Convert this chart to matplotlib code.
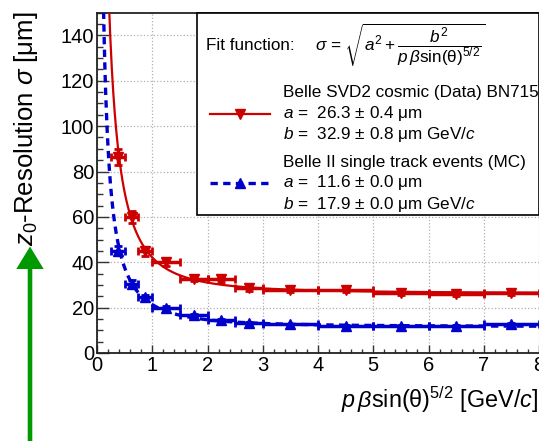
import numpy as np
import matplotlib
matplotlib.use('Agg')
import matplotlib.pyplot as plt
from matplotlib.patches import Rectangle, Polygon

plt.rcParams['font.family'] = ['Liberation Sans', 'DejaVu Sans']
plt.rcParams['mathtext.fontset'] = 'custom'
plt.rcParams['mathtext.rm'] = 'Liberation Sans'
plt.rcParams['mathtext.it'] = 'Liberation Sans:italic'
plt.rcParams['mathtext.bf'] = 'Liberation Sans:bold'

# bin edges (GeV/c) shared by both samples
bin_lo = [0.25, 0.5, 0.75, 1.0, 1.5, 2.0, 2.5, 3.0, 4.0, 5.0, 6.0, 7.0]
bin_hi = [0.5, 0.75, 1.0, 1.5, 2.0, 2.5, 3.0, 4.0, 5.0, 6.0, 7.0, 8.0]

# Belle SVD2 cosmic data
data_sigma = [86.5, 60.0, 44.8, 40.0, 32.8, 32.5, 28.5, 27.8, 27.8, 26.5, 26.0, 26.3]
data_err = [3.5, 2.5, 2.0, 1.5, 1.2, 1.2, 1.0, 0.8, 0.8, 0.8, 0.8, 0.8]

# Belle II single track MC
mc_sigma = [45.0, 30.5, 24.5, 20.0, 16.8, 14.5, 13.3, 12.6, 12.0, 12.0, 12.0, 12.8]
mc_err = [2.0, 1.5, 1.2, 0.8, 0.6, 0.5, 0.4, 0.4, 0.4, 0.4, 0.4, 0.4]

# fit parameters shown in the legend
data_a, data_b = 26.3, 32.9
mc_a, mc_b = 11.6, 17.9

red = '#cc0000'
blue = '#0000cc'

fig = plt.figure(figsize=(5.39, 4.41), dpi=100)
ax = fig.add_axes([97 / 539, 1 - 353 / 441, 442 / 539, 340.3 / 441])

lo = np.array(bin_lo)
hi = np.array(bin_hi)
xc = (lo + hi) / 2
xerr = (hi - lo) / 2

ax.errorbar(xc, data_sigma, xerr=xerr, yerr=data_err, fmt='v', color=red,
            ms=7, lw=2.5, capsize=3, capthick=2, zorder=3)
ax.errorbar(xc, mc_sigma, xerr=xerr, yerr=mc_err, fmt='^', color=blue,
            ms=7, lw=2.5, capsize=3, capthick=2, zorder=3)

xf = np.linspace(0.05, 8.2, 600)
ax.plot(xf, np.sqrt(data_a**2 + (data_b / xf)**2), color=red, lw=1.6, zorder=4)
ax.plot(xf, np.sqrt(mc_a**2 + (mc_b / xf)**2), color=blue, lw=2.4,
        ls=(0, (2.2, 1.6)), zorder=4)

ax.set_xlim(0, 8)
ax.set_ylim(0, 150)
ax.set_xticks(np.arange(0, 9, 1))
ax.set_xticks(np.arange(0, 8.01, 0.2), minor=True)
ax.set_yticks(np.arange(0, 141, 20))
ax.set_yticks(np.arange(0, 151, 5), minor=True)
ax.grid(True, which='major', color='#b0b0b0', ls=':', lw=0.9)
ax.tick_params(axis='both', which='both', direction='in', labelsize=14.5,
               pad=2, color='#333333')
ax.tick_params(axis='y', which='major', length=8.5, width=1)
ax.tick_params(axis='y', which='minor', length=4, width=1)
ax.tick_params(axis='x', which='major', length=5.5, width=1)
ax.tick_params(axis='x', which='minor', length=3, width=1)
for s in ax.spines.values():
    s.set_linewidth(1.3)
    s.set_color('#222222')
ax.spines['right'].set_visible(False)

# axis titles (ROOT style, aligned to the top / right end)
fig.text(26 / 539, 1 - 11 / 441, r'$z_0$-Resolution $\sigma$ [$\mathrm{\mu}$m]',
         rotation=90, ha='center', va='top', fontsize=18.5)
fig.text(538 / 539, 1 - 408 / 441,
         r'$p\,\beta\mathrm{sin}(\mathrm{\theta})^{5/2}$ [GeV/$c$]',
         ha='right', va='baseline', fontsize=16.8)

# legend box
def ax_pt(px, py):
    return (px - 97) / 442, (353 - py) / 340.3

x0, y0 = ax_pt(197, 215)
ax.add_patch(Rectangle((x0, y0), 1 - x0, 1 - y0, transform=ax.transAxes,
                       facecolor='white', edgecolor='black', lw=1.2,
                       zorder=6, clip_on=False))

fs = 12.3
tx, ty = ax_pt(206, 46)
ax.text(tx, ty, 'Fit function:', transform=ax.transAxes, fontsize=fs,
        va='center', zorder=7)
tx, ty = ax_pt(315, 45)
ax.text(tx, ty, r'$\sigma$ = $\sqrt{a^2 + \dfrac{b^2}{p\,\beta\mathrm{sin}(\mathrm{\theta})^{5/2}}}$',
        transform=ax.transAxes, fontsize=fs, va='center', zorder=7)

entries = [
    (93, 'Belle SVD2 cosmic (Data) BN715', data_a, 0.4, data_b, 0.8, red, 'v', '-', 1.6),
    (162, 'Belle II single track events (MC)', mc_a, 0.0, mc_b, 0.0, blue, '^', (0, (2.2, 1.6)), 2.4),
]
for py, title, a, da, b, db, col, mk, ls, lw in entries:
    tx, ty = ax_pt(283, py)
    ax.text(tx, ty, title, transform=ax.transAxes, fontsize=fs, va='center', zorder=7)
    tx, ty = ax_pt(283, py + 21)
    ax.text(tx, ty, r'$a$ =  %.1f $\pm$ %.1f $\mathrm{\mu}$m' % (a, da),
            transform=ax.transAxes, fontsize=fs, va='center', zorder=7)
    tx, ty = ax_pt(283, py + 42)
    ax.text(tx, ty, r'$b$ =  %.1f $\pm$ %.1f $\mathrm{\mu}$m GeV/$c$' % (b, db),
            transform=ax.transAxes, fontsize=fs, va='center', zorder=7)
    hx0, hy = ax_pt(210, py + 21)
    hx1, _ = ax_pt(270, py + 21)
    ax.plot([hx0, hx1], [hy, hy], color=col, lw=lw, ls=ls, transform=ax.transAxes,
            clip_on=False, zorder=7)
    ax.plot([(hx0 + hx1) / 2], [hy], marker=mk, color=col, ms=7,
            transform=ax.transAxes, clip_on=False, zorder=8)

# green arrow on the left
arrow_px = [(27.7, 0), (32.3, 0), (32.3, 172), (43.7, 172), (30, 194.5),
            (16.3, 172), (27.7, 172)]
fig.patches.append(Polygon([(x / 100, y / 100) for x, y in arrow_px],
                           closed=True, facecolor='#009900', edgecolor='none',
                           transform=fig.dpi_scale_trans))

fig.savefig('out.png', dpi=100)
